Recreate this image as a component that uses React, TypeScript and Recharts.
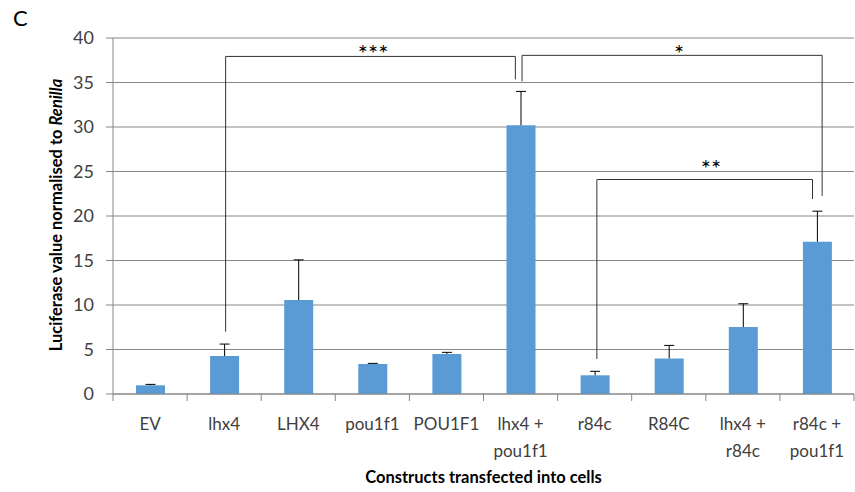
import React from 'react';
import {
  ComposedChart,
  Bar,
  XAxis,
  YAxis,
  CartesianGrid,
  ReferenceLine,
  ReferenceDot,
  Label,
} from 'recharts';

// ---------- data ----------
const categories = ['EV', 'lhx4', 'LHX4', 'pou1f1', 'POU1F1', 'lhx4 + pou1f1', 'r84c', 'R84C', 'lhx4 + r84c', 'r84c + pou1f1'];
const tickLabels = [
  ['EV'],
  ['lhx4'],
  ['LHX4'],
  ['pou1f1'],
  ['POU1F1'],
  ['lhx4 +', 'pou1f1'],
  ['r84c'],
  ['R84C'],
  ['lhx4 +', 'r84c'],
  ['r84c +', 'pou1f1'],
];
const means = [0.98, 4.26, 10.55, 3.37, 4.49, 30.19, 2.1, 4.0, 7.52, 17.1];
const upperErrors = [0.1, 1.35, 4.52, 0.07, 0.19, 3.81, 0.45, 1.46, 2.62, 3.44];
const yTicks = [0, 5, 10, 15, 20, 25, 30, 35, 40];
const xTicks = [-0.5, 0, 0.5, 1, 1.5, 2, 2.5, 3, 3.5, 4, 4.5, 5, 5.5, 6, 6.5, 7, 7.5, 8, 8.5, 9, 9.5];

// significance brackets (x in category-index units, y in data units)
const bracketLabels = ['***', '*', '**'];
const bracketLeftX = [1.02, 5.02, 6.03];
const bracketLeftY = [7.0, 35.13, 3.93];
const bracketRightX = [4.93, 9.07, 8.94];
const bracketRightY = [35.35, 22.26, 21.9];
const bracketTopY = [37.93, 38.05, 24.1];
const starX = [3.01, 7.14, 7.57];
const starY = [38.31, 38.25, 25.39];

const data = categories.map((name, i) => ({
  name,
  idx: i,
  mean: means[i],
  err: upperErrors[i],
}));

const FONT = "Lato, 'Open Sans', 'DejaVu Sans', sans-serif";
const GRID = '#878787';
const TEXT = '#404040';

const AxisTick = (props: any) => {
  const { x, y, payload } = props;
  const v = payload.value as number;
  if (!Number.isInteger(v)) {
    return <line x1={x} x2={x} y1={y} y2={y + 7} stroke={GRID} strokeWidth={1} />;
  }
  const lines = tickLabels[v] || [categories[v]];
  return (
    <text x={x} y={y} textAnchor="middle" fill={TEXT} fontSize={17} fontFamily={FONT}>
      {lines.map((l, i) => (
        <tspan key={i} x={x} dy={i === 0 ? 36 : 27}>
          {l}
        </tspan>
      ))}
    </text>
  );
};

const ErrorShape = (props: any) => {
  const { x, y, width, height } = props;
  if (x == null || y == null) return null;
  const cx = x + width / 2;
  return (
    <g>
      <line x1={cx} x2={cx} y1={y} y2={y + height} stroke="#000" strokeWidth={1} />
      <line x1={cx - 5} x2={cx + 5} y1={y} y2={y} stroke="#000" strokeWidth={1} />
    </g>
  );
};

const YTitle = (props: any) => {
  const vb = props.viewBox || { x: 0, y: 38, width: 113, height: 356 };
  const cx = 56;
  const cy = vb.y + vb.height / 2 - 1;
  return (
    <text
      x={cx}
      y={cy}
      transform={`rotate(-90, ${cx}, ${cy})`}
      textAnchor="middle"
      dominantBaseline="central"
      fontSize={16.5}
      fontWeight="bold"
      fill="#000"
      fontFamily={FONT}
    >
      Luciferase value normalised to{' '}
      <tspan fontStyle="italic">Renilla</tspan>
    </text>
  );
};

export default function App() {
  return (
    <div style={{ position: 'absolute', left: 0, top: 0, width: 855, height: 492, fontFamily: FONT, background: '#fff' }}>
      <div style={{ position: 'absolute', left: 13, top: 4, fontSize: 22, color: '#000', fontFamily: FONT }}>C</div>
      <ComposedChart width={855} height={492} data={data} margin={{ top: 38, right: 1, left: 0, bottom: 0 }} barCategoryGap={0}>
        <CartesianGrid vertical={false} stroke={GRID} strokeWidth={1} />
        <XAxis dataKey="name" xAxisId={0} hide height={0} />
        <XAxis
          xAxisId="n"
          dataKey="idx"
          type="number"
          domain={[-0.5, 9.5]}
          ticks={xTicks}
          interval={0}
          allowDataOverflow
          height={98}
          tickLine={false}
          tickSize={0}
          tickMargin={0}
          axisLine={{ stroke: GRID }}
          tick={<AxisTick />}
        >
          <Label
            value="Constructs transfected into cells"
            position="insideBottom"
            offset={9}
            style={{ fontWeight: 'bold', fontSize: 16.5, fill: '#000', fontFamily: FONT }}
          />
        </XAxis>
        <YAxis
          width={113}
          domain={[0, 40]}
          ticks={yTicks}
          interval={0}
          tickSize={7}
          tickMargin={12}
          axisLine={{ stroke: GRID }}
          tickLine={{ stroke: GRID }}
          tick={{ fill: TEXT, fontSize: 18, fontFamily: FONT }}
        >
          <Label content={<YTitle />} position="insideLeft" />
        </YAxis>
        <Bar dataKey="mean" stackId="a" fill="#5B9BD5" barSize={29} isAnimationActive={false} />
        <Bar dataKey="err" stackId="a" fill="none" barSize={29} shape={<ErrorShape />} isAnimationActive={false} />
        {bracketLabels.map((lab, i) => (
          <ReferenceLine
            key={`l${i}`}
            xAxisId="n"
            segment={[{ x: bracketLeftX[i], y: bracketLeftY[i] }, { x: bracketLeftX[i], y: bracketTopY[i] }]}
            stroke="#333"
            strokeWidth={1}
          />
        ))}
        {bracketLabels.map((lab, i) => (
          <ReferenceLine
            key={`t${i}`}
            xAxisId="n"
            segment={[{ x: bracketLeftX[i], y: bracketTopY[i] }, { x: bracketRightX[i], y: bracketTopY[i] }]}
            stroke="#333"
            strokeWidth={1}
          />
        ))}
        {bracketLabels.map((lab, i) => (
          <ReferenceLine
            key={`r${i}`}
            xAxisId="n"
            segment={[{ x: bracketRightX[i], y: bracketTopY[i] }, { x: bracketRightX[i], y: bracketRightY[i] }]}
            stroke="#333"
            strokeWidth={1}
          />
        ))}
        {bracketLabels.map((lab, i) => (
          <ReferenceDot
            key={`s${i}`}
            xAxisId="n"
            x={starX[i]}
            y={starY[i]}
            r={1}
            fill="none"
            stroke="none"
            label={{ value: lab, position: 'center', fontSize: 24, fill: '#000', fontFamily: FONT }}
          />
        ))}
      </ComposedChart>
    </div>
  );
}
